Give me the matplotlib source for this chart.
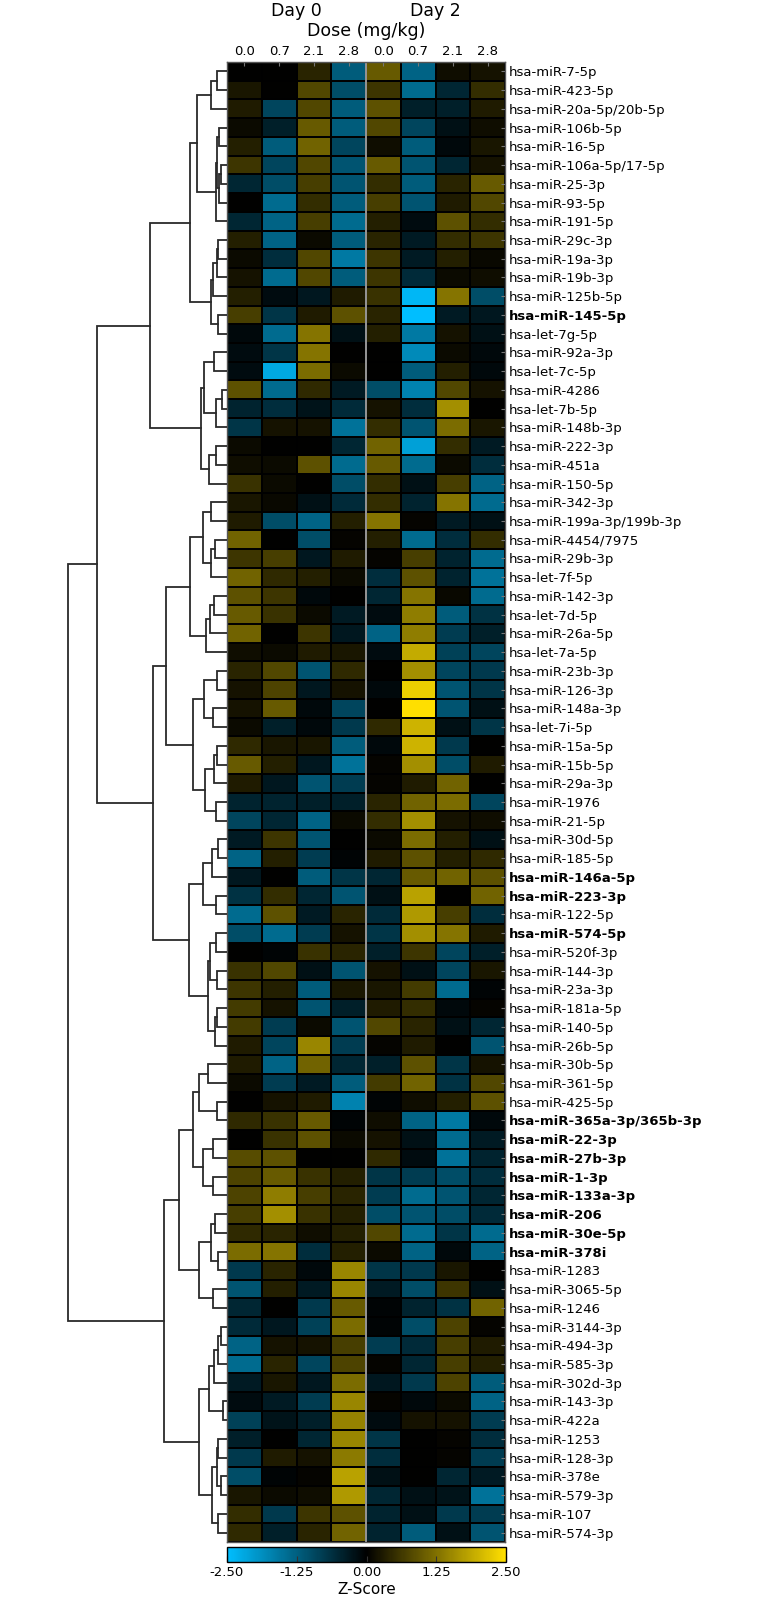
import numpy as np
import matplotlib.pyplot as plt
from matplotlib.colors import LinearSegmentedColormap

# ==========================
# Data
# ==========================
mirnas = [
    "hsa-miR-7-5p", "hsa-miR-423-5p", "hsa-miR-20a-5p/20b-5p", "hsa-miR-106b-5p",
    "hsa-miR-16-5p", "hsa-miR-106a-5p/17-5p", "hsa-miR-25-3p", "hsa-miR-93-5p",
    "hsa-miR-191-5p", "hsa-miR-29c-3p", "hsa-miR-19a-3p", "hsa-miR-19b-3p",
    "hsa-miR-125b-5p", "hsa-miR-145-5p", "hsa-let-7g-5p", "hsa-miR-92a-3p",
    "hsa-let-7c-5p", "hsa-miR-4286", "hsa-let-7b-5p", "hsa-miR-148b-3p",
    "hsa-miR-222-3p", "hsa-miR-451a", "hsa-miR-150-5p", "hsa-miR-342-3p",
    "hsa-miR-199a-3p/199b-3p", "hsa-miR-4454/7975", "hsa-miR-29b-3p", "hsa-let-7f-5p",
    "hsa-miR-142-3p", "hsa-let-7d-5p", "hsa-miR-26a-5p", "hsa-let-7a-5p",
    "hsa-miR-23b-3p", "hsa-miR-126-3p", "hsa-miR-148a-3p", "hsa-let-7i-5p",
    "hsa-miR-15a-5p", "hsa-miR-15b-5p", "hsa-miR-29a-3p", "hsa-miR-1976",
    "hsa-miR-21-5p", "hsa-miR-30d-5p", "hsa-miR-185-5p", "hsa-miR-146a-5p",
    "hsa-miR-223-3p", "hsa-miR-122-5p", "hsa-miR-574-5p", "hsa-miR-520f-3p",
    "hsa-miR-144-3p", "hsa-miR-23a-3p", "hsa-miR-181a-5p", "hsa-miR-140-5p",
    "hsa-miR-26b-5p", "hsa-miR-30b-5p", "hsa-miR-361-5p", "hsa-miR-425-5p",
    "hsa-miR-365a-3p/365b-3p", "hsa-miR-22-3p", "hsa-miR-27b-3p", "hsa-miR-1-3p",
    "hsa-miR-133a-3p", "hsa-miR-206", "hsa-miR-30e-5p", "hsa-miR-378i",
    "hsa-miR-1283", "hsa-miR-3065-5p", "hsa-miR-1246", "hsa-miR-3144-3p",
    "hsa-miR-494-3p", "hsa-miR-585-3p", "hsa-miR-302d-3p", "hsa-miR-143-3p",
    "hsa-miR-422a", "hsa-miR-1253", "hsa-miR-128-3p", "hsa-miR-378e",
    "hsa-miR-579-3p", "hsa-miR-107", "hsa-miR-574-3p",
]

bold_mirnas = [
    "hsa-miR-145-5p", "hsa-miR-146a-5p", "hsa-miR-223-3p", "hsa-miR-574-5p",
    "hsa-miR-365a-3p/365b-3p", "hsa-miR-22-3p", "hsa-miR-27b-3p", "hsa-miR-1-3p",
    "hsa-miR-133a-3p", "hsa-miR-206", "hsa-miR-30e-5p", "hsa-miR-378i",
]

days = ["Day 0", "Day 2"]
doses = ["0.0", "0.7", "2.1", "2.8"]

# Z-scores, dose columns 0.0 / 0.7 / 2.1 / 2.8
day0_z = [
    [0.0, 0.0, 0.4, -1.2], [0.25, 0.0, 0.8, -1.0], [0.3, -0.9, 0.8, -1.2], [0.1, -0.4, 1.0, -1.2],
    [0.35, -1.2, 1.1, -0.9], [0.6, -0.9, 0.8, -1.1], [-0.5, -1.0, 0.7, -1.1], [0.0, -1.4, 0.5, -1.2],
    [-0.5, -1.3, 0.7, -1.4], [0.35, -1.3, 0.1, -1.2], [0.1, -0.6, 0.8, -1.6], [0.2, -1.4, 0.8, -1.2],
    [0.35, -0.15, -0.3, 0.3], [0.7, -0.7, 0.3, 0.9], [-0.1, -1.4, 1.3, -0.2], [-0.15, -0.7, 1.3, 0.0],
    [-0.15, -2.2, 1.2, 0.1], [0.9, -1.4, 0.45, -0.35], [-0.45, -0.6, -0.25, -0.55], [-0.7, 0.2, 0.2, -1.5],
    [0.1, 0.0, 0.0, -0.5], [0.15, 0.1, 0.9, -1.4], [0.55, 0.1, 0.0, -1.0], [0.25, 0.08, -0.2, -0.55],
    [0.3, -1.0, -1.3, 0.35], [1.1, 0.0, -1.0, 0.05], [0.6, 0.7, -0.3, 0.3], [1.1, 0.45, 0.35, 0.1],
    [0.9, 0.6, -0.1, 0.0], [1.0, 0.55, 0.1, -0.35], [1.1, 0.0, 0.6, -0.3], [0.15, 0.1, 0.3, 0.25],
    [0.4, 0.8, -1.1, 0.45], [0.2, 0.75, -0.3, 0.2], [0.2, 1.0, -0.1, -0.9], [0.1, -0.4, -0.1, -0.75],
    [0.45, 0.25, 0.25, -1.2], [1.0, 0.35, -0.3, -1.5], [0.3, -0.3, -1.1, -0.8], [-0.45, -0.45, -0.4, -0.4],
    [-0.9, -0.5, -1.3, 0.1], [-0.35, 0.6, -1.1, 0.0], [-1.3, 0.35, -0.8, -0.05], [-0.3, 0.0, -1.2, -0.7],
    [-0.65, 0.5, -0.5, -1.1], [-1.4, 0.9, -0.35, 0.4], [-1.0, -1.4, -0.8, 0.2], [0.0, -0.05, 0.55, 0.4],
    [0.55, 0.8, -0.2, -1.1], [0.6, 0.35, -1.2, 0.25], [0.65, 0.2, -1.1, -0.4], [0.65, -0.8, 0.1, -1.1],
    [0.3, -0.9, 1.5, -0.8], [0.3, -1.3, 1.1, -0.5], [0.1, -0.8, -0.35, -1.2], [0.0, 0.2, 0.3, -1.7],
    [0.45, 0.55, 1.0, -0.05], [0.0, 0.55, 0.9, 0.1], [0.85, 0.9, 0.0, 0.0], [0.75, 1.0, 0.55, 0.35],
    [0.75, 1.4, 0.7, 0.4], [0.7, 1.6, 0.55, 0.35], [0.45, 0.4, 0.15, 0.35], [1.2, 1.3, -0.6, 0.35],
    [-0.75, 0.4, -0.1, 1.5], [-1.1, 0.35, -0.35, 1.5], [-0.5, 0.0, -0.75, 1.0], [-0.55, -0.3, -0.85, 1.2],
    [-1.3, 0.2, 0.2, 0.7], [-1.4, 0.4, -0.9, 0.75], [-0.35, 0.25, -0.3, 1.2], [-0.15, -0.35, -0.8, 1.5],
    [-0.85, -0.25, -0.4, 1.45], [-0.4, 0.0, -0.5, 1.5], [-0.75, 0.3, 0.2, 1.35], [-1.0, -0.05, 0.05, 1.8],
    [0.25, 0.1, 0.15, 1.7], [0.5, -0.75, 0.6, 0.9], [0.45, -0.4, 0.4, 1.1],
]

day2_z = [
    [1.0, -1.3, 0.15, 0.2], [0.6, -1.4, -0.5, 0.5], [0.9, -0.4, -0.4, 0.3], [0.8, -0.9, -0.2, 0.15],
    [0.15, -1.2, -0.1, 0.25], [1.0, -1.1, -0.5, 0.2], [0.5, -1.2, 0.4, 1.0], [0.7, -1.1, 0.3, 0.8],
    [0.35, -0.15, 0.9, 0.5], [0.4, -0.35, 0.5, 0.6], [0.6, -0.35, 0.35, 0.08], [0.6, -0.55, 0.1, 0.15],
    [0.55, -2.4, 1.3, -1.0], [0.4, -2.5, -0.35, -0.3], [0.35, -1.6, 0.2, -0.2], [0.0, -1.8, 0.1, -0.1],
    [0.0, -1.2, 0.35, -0.1], [-1.0, -1.7, 0.8, 0.2], [0.2, -0.6, 1.6, 0.0], [0.5, -1.1, 1.2, 0.25],
    [1.1, -2.1, 0.5, -0.35], [1.0, -1.4, 0.1, -0.6], [0.5, -0.2, 0.7, -1.3], [0.5, -0.45, 1.3, -1.4],
    [1.3, 0.05, -0.35, -0.2], [0.35, -1.4, -0.6, 0.5], [0.05, 0.7, -0.45, -1.4], [-0.6, 0.9, -0.45, -1.5],
    [-0.5, 1.3, 0.08, -1.4], [-0.15, 1.4, -1.2, -0.65], [-1.3, 1.4, -0.8, -0.4], [-0.15, 1.9, -0.85, -0.9],
    [0.0, 1.6, -0.9, -0.75], [-0.1, 2.3, -1.1, -0.7], [0.0, 2.5, -1.1, -0.2], [0.45, 2.0, -0.2, -0.7],
    [-0.1, 2.0, -0.75, 0.0], [0.05, 1.6, -1.0, 0.3], [0.05, 0.3, 1.1, 0.0], [0.4, 1.1, 1.2, -0.9],
    [0.5, 1.6, 0.2, 0.15], [0.1, 1.2, 0.35, -0.2], [0.3, 0.9, 0.35, 0.45], [-0.5, 1.0, 1.1, 0.9],
    [-0.2, 1.8, 0.0, 1.1], [-0.55, 1.7, 0.7, -0.6], [-0.7, 1.6, 1.3, 0.3], [-0.4, 0.6, -0.9, -0.4],
    [0.2, -0.2, -0.9, 0.25], [0.25, 0.65, -1.4, -0.05], [0.3, 0.5, -0.1, 0.05], [0.8, 0.4, -0.2, -0.5],
    [0.05, 0.3, 0.0, -1.1], [-0.4, 0.9, -0.7, 0.2], [0.65, 1.1, -0.65, 0.8], [-0.05, 0.15, 0.35, 0.9],
    [0.15, -1.3, -1.6, -0.1], [0.2, -0.2, -1.4, -0.35], [0.45, -0.15, -1.5, -0.45], [-0.7, -0.8, -1.0, -0.6],
    [-0.8, -1.4, -1.1, -0.5], [-1.0, -1.1, -1.0, -0.55], [0.8, -1.4, -0.7, -1.4], [0.1, -1.3, -0.1, -1.3],
    [-0.7, -0.75, 0.25, 0.0], [-0.35, -1.0, 0.6, -0.2], [-0.05, -0.45, -0.65, 1.1], [-0.05, -1.0, 0.75, 0.05],
    [-0.8, -0.55, 0.7, 0.3], [0.05, -0.5, 0.7, 0.35], [-0.3, -0.75, 0.75, -1.2], [0.05, -0.1, 0.1, -1.3],
    [-0.15, 0.2, 0.2, -0.8], [-0.7, 0.0, 0.05, -0.6], [-0.6, 0.0, 0.05, -0.8], [-0.2, 0.0, -0.5, -0.35],
    [-0.5, -0.2, -0.25, -1.5], [-0.45, -0.2, -0.75, -0.8], [-0.45, -1.2, -0.2, -1.1],
]

# Row dendrogram: (merge distance, left, right); leaves are row indices
clust_a = (16.3, (10.3, 0, 1), 2)
clust_b = (11.0, (10.3, (7.7, 3, 4), (8.0, (6.3, 5, 6), 7)), 8)
clust_c = (16.3, (14.3, (10.0, (8.7, 9, 10), 11), 12), (8.7, 13, 14))
clust_d = (26.3, (23.0, (13.0, 15, 16), (11.0, (5.0, 17, 18), 19)), (18.0, (11.0, 20, 21), 22))
clust_g = (37.0,
           (24.3, (16.3, 23, 24), (16.3, (12.0, 25, 26), 27)),
           (21.0, (17.3, (13.0, 28, 29), 30), 31))
clust_h = (33.7,
           (23.0, (10.3, 32, 33), (13.7, 34, 35)),
           (22.0, (13.0, (10.3, 36, 37), 38), (11.0, 39, 40)))
clust_i = (37.7,
           (24.3, (15.0, (8.7, 41, 42), 43), (11.0, 44, 45)),
           (19.3, (17.3, (11.0, 46, 47), (10.3, 48, 49)), (12.0, (10.3, 50, 51), 52)))
clust_j = (33.7,
           (27.7, (19.3, 53, 54), (10.3, 55, 56)),
           (24.3, (14.3, 57, 58), (14.3, 59, 60)))
clust_k = (28.3, (16.3, (12.0, 61, 62), (8.7, 63, 64)), (14.3, 65, 66))
clust_l = (27.7,
           (17.7, (13.0, (8.7, (5.7, 67, 68), 69), 70), (4.0, 71, 72)),
           (15.0, (10.3, (8.7, 73, 74), (6.0, 75, 76)), (8.7, 77, 78)))

upper_tree = (77.0, (37.0, (29.7, clust_a, clust_b), clust_c), clust_d)
middle_tree = (74.3, (61.0, clust_g, clust_h), clust_i)
lower_tree = (63.0, (47.7, clust_j, clust_k), clust_l)
row_tree = (158.7, (129.7, upper_tree, middle_tree), lower_tree)

# ==========================
# Figure
# ==========================
W, H = 771, 1600
fig = plt.figure(figsize=(W / 100, H / 100), dpi=100)

hm_left, hm_right, hm_top, hm_bottom = 227, 505, 62, 1542


def fig_rect(x0, x1, y0, y1):
    return [x0 / W, 1 - y1 / H, (x1 - x0) / W, (y1 - y0) / H]


cmap = LinearSegmentedColormap.from_list("zscore", ["#00BEFF", "#000000", "#FFDF00"])

z = np.hstack([np.array(day0_z), np.array(day2_z)])
n_rows, n_cols = z.shape

# Heatmap
ax = fig.add_axes(fig_rect(hm_left, hm_right, hm_top, hm_bottom))
mesh = ax.pcolormesh(np.arange(n_cols + 1), np.arange(n_rows + 1), z,
                     cmap=cmap, vmin=-2.5, vmax=2.5,
                     edgecolors="black", linewidth=1.4)
ax.set_xlim(0, n_cols)
ax.set_ylim(n_rows, 0)
ax.axvline(len(doses), color="#b0b0b0", linewidth=1.2)

ax.xaxis.tick_top()
ax.set_xticks(np.arange(n_cols) + 0.5)
ax.set_xticklabels(doses * len(days), fontsize=9.5)
ax.yaxis.tick_right()
ax.set_yticks(np.arange(n_rows) + 0.5)
ax.set_yticklabels(mirnas, fontsize=9.5)
for lbl in ax.get_yticklabels():
    if lbl.get_text() in bold_mirnas:
        lbl.set_fontweight("bold")
ax.tick_params(axis="both", direction="in", length=3, color="#777777", pad=3)
for sp in ax.spines.values():
    sp.set_color("#555555")
    sp.set_linewidth(1.0)

# Column headers
fig.text((hm_left + (hm_right - hm_left) * 0.25) / W, 1 - 11 / H, days[0],
         ha="center", va="center", fontsize=12.5)
fig.text((hm_left + (hm_right - hm_left) * 0.75) / W, 1 - 11 / H, days[1],
         ha="center", va="center", fontsize=12.5)
fig.text((hm_left + hm_right) / 2 / W, 1 - 31 / H, "Dose (mg/kg)",
         ha="center", va="center", fontsize=12.5)

# ==========================
# Dendrogram
# ==========================
dax = fig.add_axes(fig_rect(0, hm_left, hm_top, hm_bottom))
dax.set_xlim(hm_left, 0)
dax.set_ylim(n_rows, 0)
dax.axis("off")


def draw_node(node):
    if isinstance(node, int):
        return node + 0.5, 0.0
    h, left, right = node
    yl, hl = draw_node(left)
    yr, hr = draw_node(right)
    dax.plot([hl, h, h, hr], [yl, yl, yr, yr], color="#2a2a2a", linewidth=1.3,
             solid_joinstyle="miter")
    return (yl + yr) / 2, h


draw_node(row_tree)

# ==========================
# Colorbar
# ==========================
cax = fig.add_axes(fig_rect(hm_left, 506, 1547, 1562))
cbar = fig.colorbar(mesh, cax=cax, orientation="horizontal",
                    ticks=[-2.5, -1.25, 0.0, 1.25, 2.5], format="%.2f")
cbar.ax.tick_params(labelsize=9.5, direction="in", length=4, color="#333333", pad=3)
cbar.outline.set_linewidth(1.0)
cbar.set_label("Z-Score", fontsize=11, labelpad=2)

fig.savefig("out.png", dpi=100)
